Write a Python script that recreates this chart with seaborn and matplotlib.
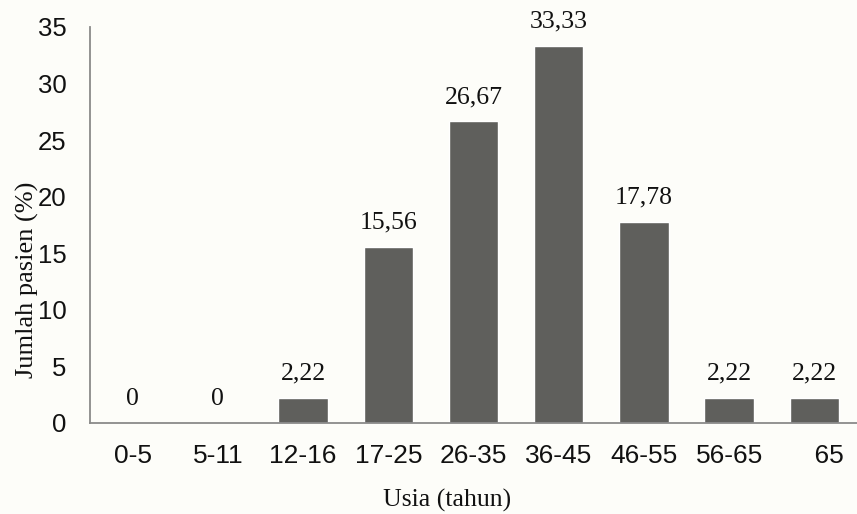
import matplotlib
matplotlib.use("Agg")
import matplotlib.pyplot as plt
import seaborn as sns
import pandas as pd

categories = ["0-5", "5-11", "12-16", "17-25", "26-35", "36-45", "46-55", "56-65", "    65"]
values = [0, 0, 2.22, 15.56, 26.67, 33.33, 17.78, 2.22, 2.22]
value_labels = ["0", "0", "2,22", "15,56", "26,67", "33,33", "17,78", "2,22", "2,22"]
y_ticks = [0, 5, 10, 15, 20, 25, 30, 35]

sns.set_theme(style="white")
df = pd.DataFrame({"cat": categories, "val": values})

fig = plt.figure(figsize=(8.57, 5.14), dpi=100)
fig.patch.set_facecolor("#fdfdf9")
ax = fig.add_axes([90/857, 1 - 423/514, (857 - 90)/857, (423 - 27)/514])
ax.set_facecolor("#fdfdf9")

sns.barplot(data=df, x="cat", y="val", color="#5f5f5c", saturation=1, width=0.58, ax=ax)

for i, (v, lab) in enumerate(zip(values, value_labels)):
    ax.text(i, v + 1.6, lab, ha="center", va="baseline", fontsize=18.5,
            family="Liberation Serif", color="#111111")

ax.set_xlim(-0.5, len(categories) - 0.5)
ax.set_ylim(0, 35)
ax.set_yticks(y_ticks)
ax.set_yticklabels([str(t) for t in y_ticks], family="Liberation Sans", fontsize=18.5, color="#111111")
ax.set_xticks(range(len(categories)))
ax.set_xticklabels(categories, family="Liberation Sans", fontsize=19, color="#111111")
ax.tick_params(axis="y", length=0, pad=17)
ax.tick_params(axis="x", length=0, pad=15)

for s in ["top", "right"]:
    ax.spines[s].set_visible(False)
for s in ["left", "bottom"]:
    ax.spines[s].set_color("#8a8a8a")
    ax.spines[s].set_linewidth(1.3)

ax.set_xlabel("")
ax.set_ylabel("")
fig.text(447/857, 1 - 500/514, "Usia (tahun)", family="Liberation Serif", fontsize=18.5,
         ha="center", va="center", color="#111111")
fig.text(27/857, 1 - 280/514, "Jumlah pasien (%)", family="Liberation Serif", fontsize=19,
         ha="center", va="center", rotation=90, color="#111111")

fig.savefig("out.png", dpi=100, facecolor=fig.get_facecolor())
